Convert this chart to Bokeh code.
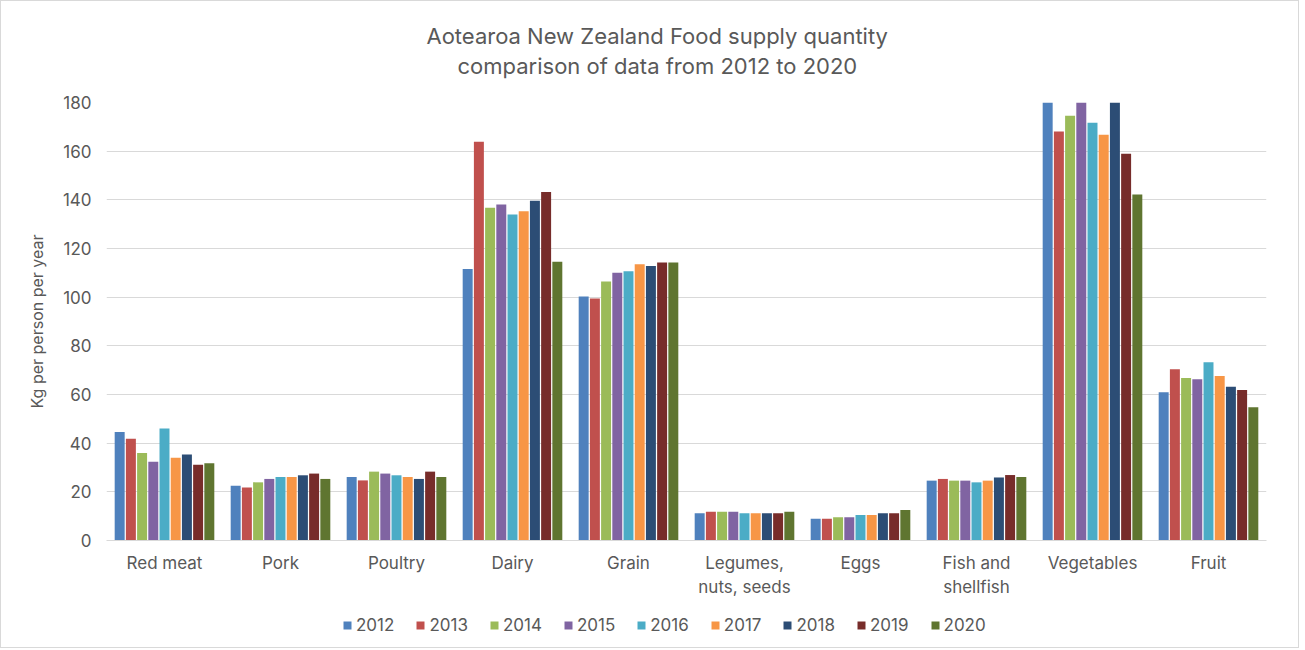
from bokeh.plotting import figure
from bokeh.models import (ColumnDataSource, FactorRange, Range1d, Legend, LegendItem, Title,
                          SingleIntervalTicker, CategoricalAxis, CustomJSTickFormatter)
from bokeh.layouts import column
from bokeh.transform import dodge
from bokeh.embed import file_html
from bokeh.resources import INLINE

categories = ["Red meat", "Pork", "Poultry", "Dairy", "Grain", "Legumes, nuts, seeds",
              "Eggs", "Fish and shellfish", "Vegetables", "Fruit"]
label_line1 = ["Red meat", "Pork", "Poultry", "Dairy", "Grain", "Legumes,",
               "Eggs", "Fish and", "Vegetables", "Fruit"]
label_line2 = ["", "", "", "", "", "nuts, seeds", "", "shellfish", "", ""]
years = ["2012", "2013", "2014", "2015", "2016", "2017", "2018", "2019", "2020"]

v2012 = [44.6, 22.5, 26.1, 111.6, 100.3, 11.2, 8.9, 24.6, 185.0, 60.9]
v2013 = [41.8, 21.8, 24.7, 163.9, 99.5, 11.8, 8.9, 25.3, 168.1, 70.4]
v2014 = [36.0, 23.9, 28.3, 136.7, 106.4, 11.8, 9.6, 24.6, 174.6, 66.8]
v2015 = [32.4, 25.3, 27.5, 138.1, 110.0, 11.8, 9.6, 24.6, 183.0, 66.3]
v2016 = [46.0, 26.1, 26.8, 134.0, 110.6, 11.2, 10.5, 23.9, 171.7, 73.3]
v2017 = [34.0, 26.1, 26.1, 135.3, 113.5, 11.2, 10.5, 24.6, 166.7, 67.6]
v2018 = [35.3, 26.8, 25.3, 139.6, 112.8, 11.2, 11.2, 25.9, 184.0, 63.2]
v2019 = [31.1, 27.5, 28.3, 143.2, 114.2, 11.2, 11.2, 26.9, 158.9, 61.8]
v2020 = [31.7, 25.3, 26.1, 114.6, 114.2, 11.8, 12.5, 26.1, 142.2, 54.8]

series = [v2012, v2013, v2014, v2015, v2016, v2017, v2018, v2019, v2020]
colors = ["#4F81BD", "#C0504D", "#9BBB59", "#8064A2", "#4BACC6",
          "#F79646", "#2C4D75", "#772C2A", "#5F7530"]

data = {"cat": categories}
for y, s in zip(years, series):
    data["y" + y] = s
source = ColumnDataSource(data)

FONT = "Inter"
GREY = "#595959"

p = figure(width=1297, height=600, x_range=FactorRange(*categories, range_padding=0.0),
           y_range=Range1d(0, 180), output_backend="svg", toolbar_location=None,
           min_border_left=105, min_border_right=32, min_border_top=101, min_border_bottom=61)
p.x_range.factor_padding = 0.0
p.outline_line_color = None

step = 0.0966
for i, (y, c) in enumerate(zip(years, colors)):
    p.vbar(x=dodge("cat", (i - 4) * step, range=p.x_range), top="y" + y, width=0.086,
           source=source, fill_color=c, line_color=None)

p.yaxis.ticker = SingleIntervalTicker(interval=20)
p.ygrid.ticker = SingleIntervalTicker(interval=20)
p.ygrid.grid_line_color = "#d9d9d9"
p.ygrid.grid_line_width = 1
p.xgrid.grid_line_color = None

p.yaxis.axis_line_color = None
p.yaxis.major_tick_line_color = None
p.yaxis.minor_tick_line_color = None
p.yaxis.major_label_text_font = FONT
p.yaxis.major_label_text_font_size = "17px"
p.yaxis.major_label_text_color = GREY
p.yaxis.major_label_standoff = 9
p.yaxis.axis_label = "Kg per person per year"
p.yaxis.axis_label_text_font = FONT
p.yaxis.axis_label_text_font_size = "16px"
p.yaxis.axis_label_text_font_style = "normal"
p.yaxis.axis_label_text_color = GREY
p.yaxis.axis_label_standoff = 13

fmt_code = "const i = cats.indexOf(tick); return i >= 0 ? lab[i] : tick;"

xa = p.xaxis[0]
xa.axis_line_color = "#d9d9d9"
xa.major_tick_line_color = None
xa.minor_tick_line_color = None
xa.major_label_text_font = FONT
xa.major_label_text_font_size = "17px"
xa.major_label_text_color = GREY
xa.major_label_standoff = 6
xa.formatter = CustomJSTickFormatter(args=dict(cats=categories, lab=label_line1), code=fmt_code)

xa2 = CategoricalAxis(axis_line_color=None, major_tick_line_color=None,
                      minor_tick_line_color=None, major_label_text_font=FONT,
                      major_label_text_font_size="17px", major_label_text_color=GREY,
                      major_label_standoff=-5,
                      formatter=CustomJSTickFormatter(args=dict(cats=categories, lab=label_line2),
                                                      code=fmt_code))
p.add_layout(xa2, "below")

title2 = Title(text="comparison of data from 2012 to 2020", align="left", offset=351,
               text_font=FONT, text_font_size="22px", text_font_style="normal",
               text_color=GREY, standoff=48)
title1 = Title(text="Aotearoa New Zealand Food supply quantity", align="left", offset=320,
               text_font=FONT, text_font_size="22px", text_font_style="normal",
               text_color=GREY, standoff=-44)
p.add_layout(title2, "above")
p.add_layout(title1, "above")

# legend strip below the chart; its bars use the same data but sit outside its y range
pl = figure(width=1297, height=46, x_range=FactorRange(*categories),
            y_range=Range1d(1000, 1001), output_backend="svg", toolbar_location=None,
            x_axis_location=None, y_axis_location=None, min_border=0)
pl.outline_line_color = None
pl.grid.visible = False
leg_renderers = []
for i, (y, c) in enumerate(zip(years, colors)):
    leg_renderers.append(pl.vbar(x=dodge("cat", (i - 4) * step, range=pl.x_range),
                                 top="y" + y, width=0.086, source=source,
                                 fill_color=c, line_color=None))
items = [LegendItem(label=y, renderers=[r]) for y, r in zip(years, leg_renderers)]
legend = Legend(items=items, orientation="horizontal", location=(236, 12),
                label_text_font=FONT, label_text_font_size="17px", label_text_color=GREY,
                glyph_width=10, glyph_height=10, spacing=21, label_standoff=4,
                padding=0, margin=0, border_line_color=None, background_fill_alpha=0)
pl.add_layout(legend, "center")

layout = column(p, pl, spacing=0)
layout.styles = {"border": "1px solid #d9d9d9"}

open("out.html", "w").write(file_html(layout, INLINE))
